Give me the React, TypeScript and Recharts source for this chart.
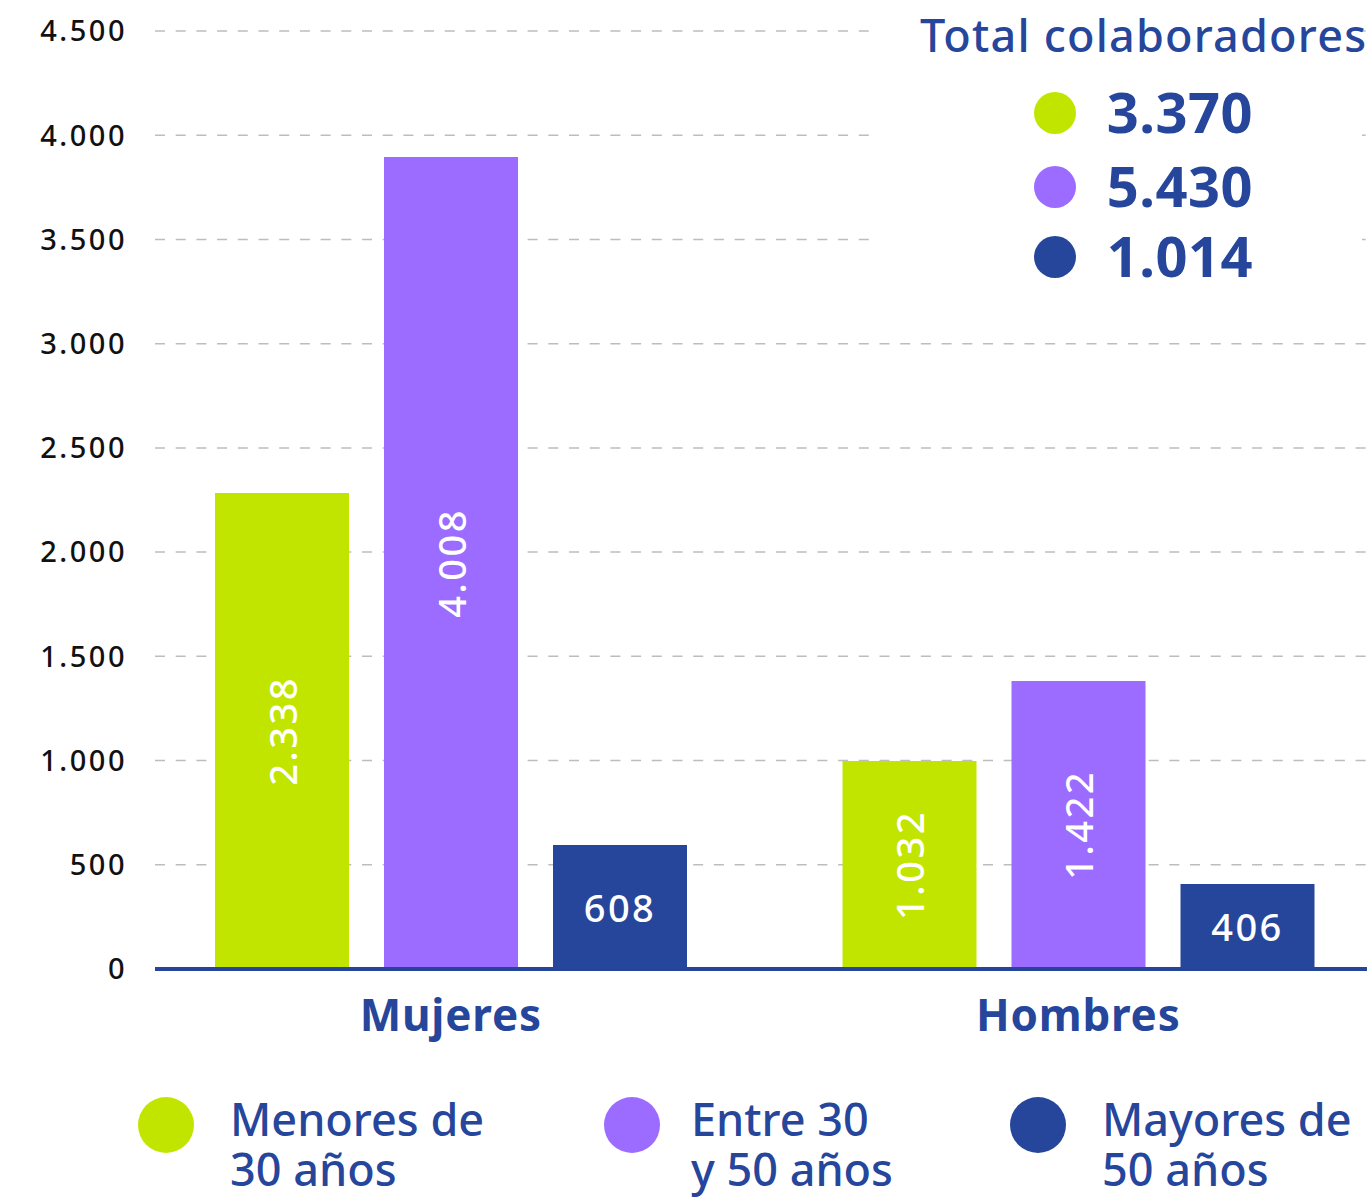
import React from "react";
import { BarChart, Bar, XAxis, YAxis, CartesianGrid, LabelList } from "recharts";

const categories = ["Mujeres", "Hombres"];
// bar heights as drawn in the picture
const menores = [2284, 998];
const entre = [3896, 1382];
const mayores = [595, 408];
// printed values on the bars
const menoresLabels = ["2.338", "1.032"];
const entreLabels = ["4.008", "1.422"];
const mayoresLabels = ["608", "406"];
const yTicks = [0, 500, 1000, 1500, 2000, 2500, 3000, 3500, 4000, 4500];
const seriesNames = [
  ["Menores de", "30 años"],
  ["Entre 30", "y 50 años"],
  ["Mayores de", "50 años"],
];
const totalsTitle = "Total colaboradores";
const totals = ["3.370", "5.430", "1.014"];

const colors = ["#C2E500", "#9C6BFF", "#26469C"];
const NAVY = "#26469C";
const FONT = "'Noto Sans', sans-serif";

const data = categories.map((name, i) => ({
  name,
  menores: menores[i],
  entre: entre[i],
  mayores: mayores[i],
  menoresLabel: menoresLabels[i],
  entreLabel: entreLabels[i],
  mayoresLabel: mayoresLabels[i],
}));

const fmt = (v: number) => (v >= 1000 ? `${Math.floor(v / 1000)}.${String(v % 1000).padStart(3, "0")}` : String(v));

function VLabel(props: any) {
  const { x, y, width, height, value } = props;
  const cx = x + width / 2;
  const cy = y + height / 2;
  return (
    <text x={cx} y={cy} transform={`rotate(-90 ${cx} ${cy})`} textAnchor="middle" dominantBaseline="central"
      fill="#fff" fontSize={38} fontWeight={500} letterSpacing={2.5} fontFamily={FONT}>
      {value}
    </text>
  );
}

function HLabel(props: any) {
  const { x, y, width, height, value } = props;
  return (
    <text x={x + width / 2} y={y + height / 2} textAnchor="middle" dominantBaseline="central"
      fill="#fff" fontSize={38} fontWeight={500} letterSpacing={2.5} fontFamily={FONT}>
      {value}
    </text>
  );
}

export default function App() {
  const legendX = [166, 632, 1038];
  const legendTextX = [230, 691, 1102];
  const totalsY = [113, 187, 257];
  return (
    <div style={{ position: "absolute", left: 0, top: 0, width: 1367, height: 1201, background: "#fff", fontFamily: FONT }}>
      <BarChart width={1367} height={1060} data={data} margin={{ top: 31, right: 0, bottom: 0, left: 0 }}
        barSize={134} barGap={35}>
        <CartesianGrid vertical={false} stroke="#bdbdbd" strokeWidth={1.5} strokeDasharray="10 10.7" />
        <YAxis width={155} domain={[0, 4500]} ticks={yTicks} axisLine={false} tickLine={false} tickSize={0}
          tickMargin={28} tickFormatter={fmt}
          tick={{ fontSize: 29, fontWeight: 500, fill: "#111", fontFamily: FONT, letterSpacing: 2.5 }} />
        <XAxis dataKey="name" height={91} padding={{ left: -18, right: -25 }} tickLine={false} tickSize={0}
          tickMargin={31} axisLine={{ stroke: "#25459B", strokeWidth: 4 }}
          tick={{ fontSize: 44, fontWeight: 700, fill: NAVY, fontFamily: FONT, letterSpacing: 0.8 }} />
        <Bar dataKey="menores" fill={colors[0]} isAnimationActive={false}>
          <LabelList dataKey="menoresLabel" content={VLabel} />
        </Bar>
        <Bar dataKey="entre" fill={colors[1]} isAnimationActive={false}>
          <LabelList dataKey="entreLabel" content={VLabel} />
        </Bar>
        <Bar dataKey="mayores" fill={colors[2]} isAnimationActive={false}>
          <LabelList dataKey="mayoresLabel" content={HLabel} />
        </Bar>
      </BarChart>

      <svg style={{ position: "absolute", left: 0, top: 0 }} width={1367} height={1201} pointerEvents="none">
        <rect x={878} y={0} width={484} height={290} fill="#fff" />
        <text x={920} y={52} fontSize={45} fontWeight={500} letterSpacing={1.2} fill={NAVY} fontFamily={FONT}>
          {totalsTitle}
        </text>
        {totals.map((t, i) => (
          <g key={t}>
            <circle cx={1055} cy={totalsY[i]} r={21} fill={colors[i]} />
            <text x={1253} y={totalsY[i] + 20} textAnchor="end" fontSize={56} fontWeight={700} letterSpacing={0.5}
              fill={NAVY} fontFamily={FONT}>{t}</text>
          </g>
        ))}
        {seriesNames.map((lines, i) => (
          <g key={i}>
            <circle cx={legendX[i]} cy={1125} r={28} fill={colors[i]} />
            <text x={legendTextX[i]} y={1136} fontSize={45} fontWeight={500} fill={NAVY} fontFamily={FONT}>
              {lines.map((l, j) => (
                <tspan key={j} x={legendTextX[i]} dy={j === 0 ? 0 : 50}>{l}</tspan>
              ))}
            </text>
          </g>
        ))}
      </svg>
    </div>
  );
}
